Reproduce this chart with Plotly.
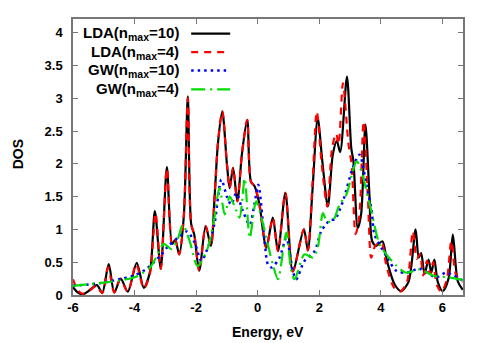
import plotly.graph_objects as go

# LDA (n_max = 10)
lda10_x = [-6.00, -5.85, -5.68, -5.50, -5.22, -5.05, -4.84, -4.66, -4.45, -4.22, -3.93, -3.70, -3.50, -3.34,
           -3.15, -2.95, -2.78, -2.68, -2.55, -2.40, -2.27, -2.16, -2.06, -1.90, -1.69, -1.52, -1.40, -1.29,
           -1.15, -1.00, -0.91, -0.80, -0.66, -0.51, -0.34, -0.22, -0.10, 0.05, 0.28, 0.49, 0.66, 0.90, 1.14,
           1.50, 1.63, 1.78, 1.95, 2.10, 2.28, 2.44, 2.57, 2.68, 2.90, 3.04, 3.11, 3.25, 3.36, 3.50, 3.63,
           3.72, 3.85, 4.05, 4.20, 4.45, 4.66, 4.90, 5.13, 5.23, 5.31, 5.42, 5.55, 5.64, 5.74, 5.85, 6.01,
           6.20, 6.34, 6.50, 6.66]
lda10_y = [0.12, 0.04, 0.01, 0.06, 0.15, 0.03, 0.47, 0.04, 0.25, 0.05, 0.49, 0.11, 0.35, 1.28,
           0.40, 1.95, 0.78, 0.84, 0.62, 1.20, 3.03, 1.08, 0.92, 0.37, 1.05, 0.75, 1.50, 2.32,
           2.80, 2.00, 1.63, 1.94, 1.43, 2.16, 2.67, 1.73, 1.66, 1.40, 0.72, 1.18, 0.67, 1.56, 0.36,
           1.00, 0.68, 1.60, 2.70, 2.04, 1.35, 2.14, 2.35, 2.18, 3.33, 2.24, 2.04, 1.02, 1.23, 2.60, 1.53,
           0.82, 0.75, 0.82, 0.52, 0.16, 0.06, 0.20, 1.00, 0.57, 0.64, 0.32, 0.54, 0.34, 0.54, 0.20, 0.06,
           0.25, 0.92, 0.21, 0.08]

# LDA (n_max = 4)
lda4_x = [-6.00, -5.85, -5.70, -5.50, -5.25, -5.05, -4.86, -4.66, -4.47, -4.22, -3.95, -3.70, -3.50, -3.32,
          -3.15, -2.95, -2.78, -2.68, -2.55, -2.40, -2.27, -2.16, -2.06, -1.90, -1.69, -1.52, -1.40, -1.29,
          -1.15, -1.00, -0.91, -0.80, -0.66, -0.51, -0.34, -0.22, -0.10, 0.05, 0.28, 0.49, 0.66, 0.90, 1.14,
          1.50, 1.63, 1.78, 1.92, 2.08, 2.26, 2.42, 2.55, 2.63, 2.77, 2.95, 3.05, 3.18, 3.30, 3.44, 3.58,
          3.69, 3.82, 4.02, 4.18, 4.42, 4.62, 4.85, 5.04, 5.17, 5.27, 5.38, 5.50, 5.60, 5.70, 5.82, 5.97,
          6.15, 6.29, 6.45, 6.66]
lda4_y = [0.24, 0.08, 0.02, 0.05, 0.14, 0.03, 0.42, 0.04, 0.24, 0.05, 0.47, 0.10, 0.33, 1.25,
          0.40, 1.93, 0.78, 0.84, 0.62, 1.20, 3.00, 1.08, 0.92, 0.37, 1.05, 0.75, 1.50, 2.32,
          2.80, 2.00, 1.63, 1.94, 1.43, 2.16, 2.67, 1.73, 1.66, 1.40, 0.72, 1.18, 0.67, 1.56, 0.36,
          1.00, 0.68, 1.70, 2.80, 2.00, 1.35, 2.25, 2.46, 2.30, 3.23, 2.30, 2.00, 0.93, 1.20, 2.65, 1.50,
          0.57, 0.75, 0.80, 0.45, 0.12, 0.05, 0.20, 0.97, 0.55, 0.62, 0.30, 0.52, 0.32, 0.50, 0.15, 0.05,
          0.25, 0.82, 0.30, 0.20]

# GW (n_max = 10)
gw10_x = [-6.00, -5.13, -4.50, -4.00, -3.64, -3.18, -2.90, -2.60, -2.30, -2.05, -1.83, -1.60, -1.40, -1.18,
          -1.00, -0.86, -0.70, -0.48, -0.26, -0.10, 0.02, 0.22, 0.33, 0.45, 0.71, 0.93, 1.14, 1.25, 1.52,
          1.85, 2.06, 2.22, 2.38, 2.50, 2.77, 3.09, 3.31, 3.53, 3.70, 3.80, 4.20, 4.50, 4.82, 5.26, 5.80,
          6.12, 6.66]
gw10_y = [0.14, 0.18, 0.24, 0.30, 0.39, 0.59, 0.75, 0.87, 0.97, 0.80, 0.52, 0.75, 1.10, 1.76,
          1.50, 1.38, 1.55, 1.28, 1.07, 1.40, 1.68, 0.85, 0.47, 0.42, 0.57, 0.87, 0.37, 0.24, 0.52,
          0.67, 0.97, 1.08, 1.15, 1.15, 1.43, 1.94, 2.14, 1.68, 1.30, 0.92, 0.58, 0.37, 0.34, 0.40, 0.27,
          0.34, 0.22]

# GW (n_max = 4)
gw4_x = [-6.00, -5.00, -4.50, -4.00, -3.50, -3.25, -3.05, -2.80, -2.60, -2.43, -2.21, -1.95, -1.62, -1.40,
         -1.24, -1.07, -0.91, -0.75, -0.59, -0.42, -0.26, -0.05, 0.12, 0.28, 0.49, 0.66, 0.93, 1.09, 1.20,
         1.52, 1.79, 1.95, 2.12, 2.25, 2.44, 2.66, 2.88, 3.09, 3.22, 3.36, 3.69, 3.96, 4.18, 4.50, 4.82,
         5.26, 5.74, 6.20, 6.66]
gw4_y = [0.14, 0.19, 0.22, 0.27, 0.42, 0.62, 0.78, 0.70, 0.85, 1.07, 0.82, 0.44, 0.72, 1.20,
         1.63, 1.23, 1.50, 1.35, 1.18, 1.78, 0.87, 1.43, 1.18, 0.87, 0.47, 0.24, 0.95, 0.37, 0.24,
         0.62, 0.57, 0.72, 1.25, 1.12, 1.13, 1.38, 1.53, 1.89, 2.04, 1.90, 1.28, 0.77, 0.62, 0.45, 0.34,
         0.39, 0.29, 0.27, 0.23]

x_ticks = [-6, -4, -2, 0, 2, 4, 6]
y_ticks = [0, 0.5, 1, 1.5, 2, 2.5, 3, 3.5, 4]
y_tick_labels = ["0", "0.5", "1", "1.5", "2", "2.5", "3", "3.5", "4"]

series = [
    ("LDA(n<sub>max</sub>=10)", lda10_x, lda10_y, "black", "solid", 2.2),
    ("LDA(n<sub>max</sub>=4)", lda4_x, lda4_y, "#ff0000", "7px,6px", 2.2),
    ("GW(n<sub>max</sub>=10)", gw10_x, gw10_y, "#0000ff", "2.5px,4px", 2.5),
    ("GW(n<sub>max</sub>=4)", gw4_x, gw4_y, "#00dd00", "14px,5px,2px,5px", 2.2),
]

FONT = "Liberation Sans, Arial, sans-serif"
fig = go.Figure()
for name, xs, ys, col, dash, w in series:
    fig.add_trace(go.Scatter(x=xs, y=ys, mode="lines", name=name,
                             line=dict(color=col, dash=dash, width=w, shape="spline", smoothing=0.8),
                             showlegend=False))

# gnuplot-style legend: text right-aligned, sample line to the right
leg_y = [0.947, 0.880, 0.813, 0.745]
for (name, xs, ys, col, dash, w), ly in zip(series, leg_y):
    fig.add_annotation(xref="paper", yref="paper", x=0.277, y=ly, xanchor="right", yanchor="middle",
                       text="<b>" + name + "</b>", showarrow=False,
                       font=dict(family=FONT, size=15, color="black"))
    fig.add_shape(type="line", xref="paper", yref="paper", x0=0.303, x1=0.403, y0=ly, y1=ly,
                  line=dict(color=col, dash=dash, width=w))

fig.add_annotation(xref="paper", yref="paper", x=0.5, y=-0.133, xanchor="center", yanchor="middle",
                   text="<b>Energy, eV</b>", showarrow=False, font=dict(family=FONT, size=14, color="black"))
fig.add_annotation(xref="paper", yref="paper", x=-0.141, y=0.51, xanchor="center", yanchor="middle",
                   text="<b>DOS</b>", textangle=-90, showarrow=False,
                   font=dict(family=FONT, size=14, color="black"))

axis_common = dict(showgrid=False, zeroline=False, ticks="inside", ticklen=5, tickwidth=1,
                   tickcolor="#777", showline=True, linecolor="#777", linewidth=1.5, mirror="ticks",
                   tickfont=dict(family=FONT, size=13, color="black"))
fig.update_xaxes(range=[-6, 6.67], tickvals=x_ticks, ticktext=["<b>%d</b>" % t for t in x_ticks],
                 **axis_common)
fig.update_yaxes(range=[0, 4.21], tickvals=y_ticks, ticktext=["<b>%s</b>" % t for t in y_tick_labels],
                 ticklabelstandoff=6, **axis_common)
# page body has an 8px margin, so the figure is offset by 8px; size compensates
fig.update_layout(width=483, height=335, margin=dict(l=65, r=28, t=9, b=48),
                  plot_bgcolor="white", paper_bgcolor="white")
fig.write_html("out.html")
